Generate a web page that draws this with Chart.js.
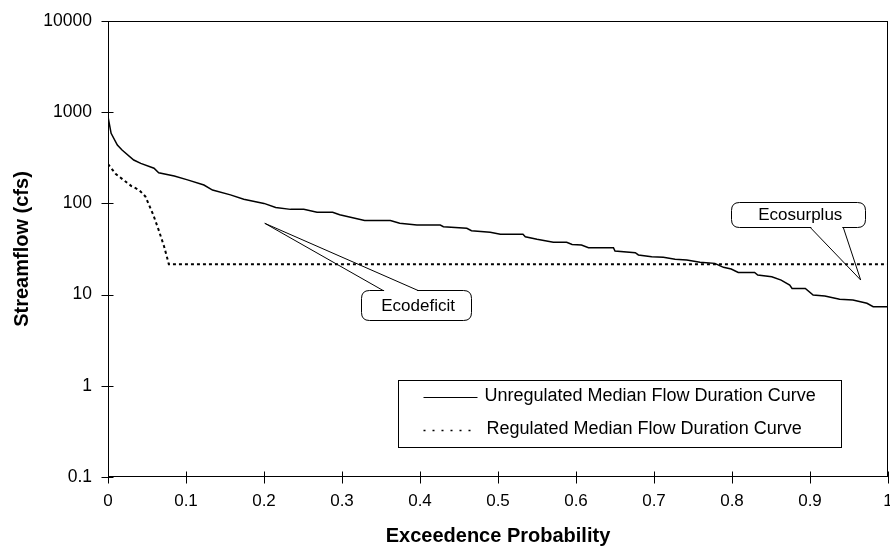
<!DOCTYPE html>
<html>
<head>
<meta charset="utf-8">
<script src="https://cdn.jsdelivr.net/npm/chart.js@4.4.0/dist/chart.umd.min.js"></script>
<style>
  html, body { margin: 0; padding: 0; background: #fff; }
  #wrap { width: 890px; height: 549px; }
</style>
</head>
<body>
<div id="wrap"><canvas id="chart"></canvas></div>
<script>
// exceedence probability / streamflow (cfs)
const unregP = [0, 0.004, 0.012, 0.018, 0.033, 0.042, 0.059, 0.065, 0.085, 0.102, 0.123, 0.134, 0.157, 0.174, 0.2,
  0.215, 0.234, 0.251, 0.268, 0.288, 0.297, 0.329, 0.362, 0.374, 0.396, 0.426, 0.43, 0.46, 0.466, 0.49,
  0.503, 0.532, 0.535, 0.55, 0.571, 0.588, 0.595, 0.607, 0.616, 0.648, 0.65, 0.676, 0.68, 0.697, 0.712,
  0.727, 0.742, 0.759, 0.778, 0.789, 0.799, 0.808, 0.829, 0.833, 0.851, 0.863, 0.874, 0.877, 0.894, 0.904,
  0.919, 0.938, 0.955, 0.973, 0.981, 1];
const unregQ = [893, 586, 437, 385, 299, 275, 243, 217, 200, 181, 159, 140, 124, 111, 100,
  90, 86, 86, 80, 80, 75, 65, 65, 60.5, 58, 58, 55.6, 53.3, 50.2, 48.2,
  45.8, 45.8, 43, 40.4, 37.4, 37.4, 35.5, 35, 32.7, 32.7, 30, 28.8, 27.2, 26, 25.6,
  24.4, 23.9, 22.6, 22, 19.9, 19.1, 17.5, 17.5, 16.4, 15.7, 14.4, 12.7, 11.7, 11.7, 9.9,
  9.66, 8.87, 8.73, 8.04, 7.38, 7.38];

const regP = [0, 0.01, 0.03, 0.04, 0.048, 0.058, 0.065, 0.072, 0.076, 0.078, 1];
const regQ = [270, 210, 155, 140, 119, 75, 51, 33.5, 25, 21.5, 21.5];

const seriesNames = ["Unregulated Median Flow Duration Curve", "Regulated Median Flow Duration Curve"];
const xTicks = [0, 0.1, 0.2, 0.3, 0.4, 0.5, 0.6, 0.7, 0.8, 0.9, 1];
const yTicks = [0.1, 1, 10, 100, 1000, 10000];

const FONT = "'Liberation Sans', Arial, sans-serif";

// callouts: tip and box centre in data units
const callouts = [
  { text: "Ecodeficit", tip: [0.201, 60.5], centre: [0.395, 7.7], w: 110, h: 30, edge: "top", base: [-33, 2] },
  { text: "Ecosurplus", tip: [0.965, 14.45], centre: [0.885, 75.6], w: 134, h: 25, edge: "bottom", base: [12, 45] }
];

function roundRect(ctx, x, y, w, h, r) {
  ctx.beginPath();
  ctx.moveTo(x + r, y);
  ctx.lineTo(x + w - r, y);
  ctx.quadraticCurveTo(x + w, y, x + w, y + r);
  ctx.lineTo(x + w, y + h - r);
  ctx.quadraticCurveTo(x + w, y + h, x + w - r, y + h);
  ctx.lineTo(x + r, y + h);
  ctx.quadraticCurveTo(x, y + h, x, y + h - r);
  ctx.lineTo(x, y + r);
  ctx.quadraticCurveTo(x, y, x + r, y);
  ctx.closePath();
}

const extras = {
  id: "extras",
  afterDraw(chart) {
    const { ctx, chartArea: a, scales: { x, y } } = chart;
    ctx.save();
    ctx.strokeStyle = "#000";
    ctx.lineWidth = 1;

    // plot frame
    const L = Math.round(a.left) + 0.5, R = Math.round(a.right) - 0.5;
    const T = Math.round(a.top) + 0.5, B = Math.round(a.bottom) - 0.5;
    ctx.strokeRect(L, T, R - L, B - T);

    // crossing tick marks
    ctx.beginPath();
    yTicks.forEach(v => {
      const py = Math.round(y.getPixelForValue(v)) + 0.5;
      ctx.moveTo(L - 7, py); ctx.lineTo(L + 5, py);
    });
    xTicks.forEach(v => {
      const px = Math.round(x.getPixelForValue(v)) + 0.5;
      ctx.moveTo(px, B + 7); ctx.lineTo(px, B - 5);
    });
    ctx.stroke();

    // callouts
    callouts.forEach(c => {
      const cx = x.getPixelForValue(c.centre[0]), cy = y.getPixelForValue(c.centre[1]);
      const tx = x.getPixelForValue(c.tip[0]), ty = y.getPixelForValue(c.tip[1]);
      const bx = Math.round(cx - c.w / 2) + 0.5, by = Math.round(cy - c.h / 2) + 0.5;
      roundRect(ctx, bx, by, c.w, c.h, 8);
      ctx.fillStyle = "#fff";
      ctx.fill();
      ctx.stroke();
      const ey = c.edge === "top" ? by : by + c.h;
      const x1 = cx + c.base[0], x2 = cx + c.base[1];
      ctx.strokeStyle = "#fff";
      ctx.lineWidth = 2;
      ctx.beginPath(); ctx.moveTo(x1 + 1, ey); ctx.lineTo(x2 - 1, ey); ctx.stroke();
      ctx.strokeStyle = "#000";
      ctx.lineWidth = 1;
      ctx.beginPath();
      ctx.moveTo(x1, ey); ctx.lineTo(tx, ty); ctx.lineTo(x2, ey);
      ctx.stroke();
      ctx.fillStyle = "#000";
      ctx.font = "17px " + FONT;
      ctx.textAlign = "center";
      ctx.textBaseline = "middle";
      ctx.fillText(c.text, cx + 2, cy + 1);
    });

    // legend box inside plot
    const lx = Math.round(a.right) - 489.5, ly = Math.round(a.bottom) - 96.5;
    ctx.fillStyle = "#fff";
    ctx.fillRect(lx, ly, 443, 67);
    ctx.strokeRect(lx, ly, 443, 67);
    ctx.font = "18px " + FONT;
    ctx.textAlign = "left";
    ctx.textBaseline = "middle";
    chart.data.datasets.forEach((ds, i) => {
      const ry = ly + 16 + i * 33;
      ctx.save();
      ctx.lineWidth = i === 0 ? 1 : 1.5;
      ctx.setLineDash(i === 0 ? [] : [2, 7]);
      ctx.beginPath();
      ctx.moveTo(lx + 25, Math.round(ry) + 0.5);
      ctx.lineTo(lx + 79, Math.round(ry) + 0.5);
      ctx.stroke();
      ctx.restore();
      ctx.fillStyle = "#000";
      ctx.fillText(ds.label, lx + 86 + i * 2, ry);
    });
    ctx.restore();
  }
};

new Chart(document.getElementById("chart"), {
  type: "line",
  data: {
    datasets: [
      {
        label: seriesNames[0],
        data: unregP.map((p, i) => ({ x: p, y: unregQ[i] })),
        borderColor: "#000",
        borderWidth: 1.5,
        pointRadius: 0,
        tension: 0
      },
      {
        label: seriesNames[1],
        data: regP.map((p, i) => ({ x: p, y: regQ[i] })),
        borderColor: "#000",
        borderWidth: 2,
        borderDash: [3, 3],
        pointRadius: 0,
        tension: 0
      }
    ]
  },
  options: {
    responsive: true,
    maintainAspectRatio: false,
    animation: false,
    events: [],
    layout: { padding: { top: 21, right: 2, left: 0, bottom: 0 } },
    plugins: {
      legend: { display: false },
      tooltip: { enabled: false }
    },
    scales: {
      x: {
        type: "linear",
        min: 0,
        max: 1,
        afterBuildTicks: s => { s.ticks = xTicks.map(v => ({ value: v })); },
        afterFit: s => { s.height = 72; s.paddingLeft = 0; s.paddingRight = 0; },
        grid: { display: false },
        border: { display: false },
        ticks: {
          padding: 6,
          color: "#000",
          maxRotation: 0,
          autoSkip: false,
          font: { family: FONT, size: 17 },
          callback: v => String(v)
        },
        title: {
          display: true,
          text: "Exceedence Probability",
          color: "#000",
          font: { family: FONT, size: 20, weight: "bold" },
          padding: { top: 0, bottom: 1 }
        }
      },
      y: {
        type: "logarithmic",
        min: 0.1,
        max: 10000,
        afterBuildTicks: s => { s.ticks = yTicks.map(v => ({ value: v })); },
        afterFit: s => { s.width = 108; s.paddingTop = 0; s.paddingBottom = 0; },
        grid: { display: false },
        border: { display: false },
        ticks: {
          padding: 8,
          color: "#000",
          font: { family: FONT, size: 17.5 },
          callback: v => String(v)
        },
        title: {
          display: true,
          text: "Streamflow (cfs)",
          color: "#000",
          font: { family: FONT, size: 20, weight: "bold" },
          padding: { top: 10, bottom: 0 }
        }
      }
    }
  },
  plugins: [extras]
});
</script>
</body>
</html>
